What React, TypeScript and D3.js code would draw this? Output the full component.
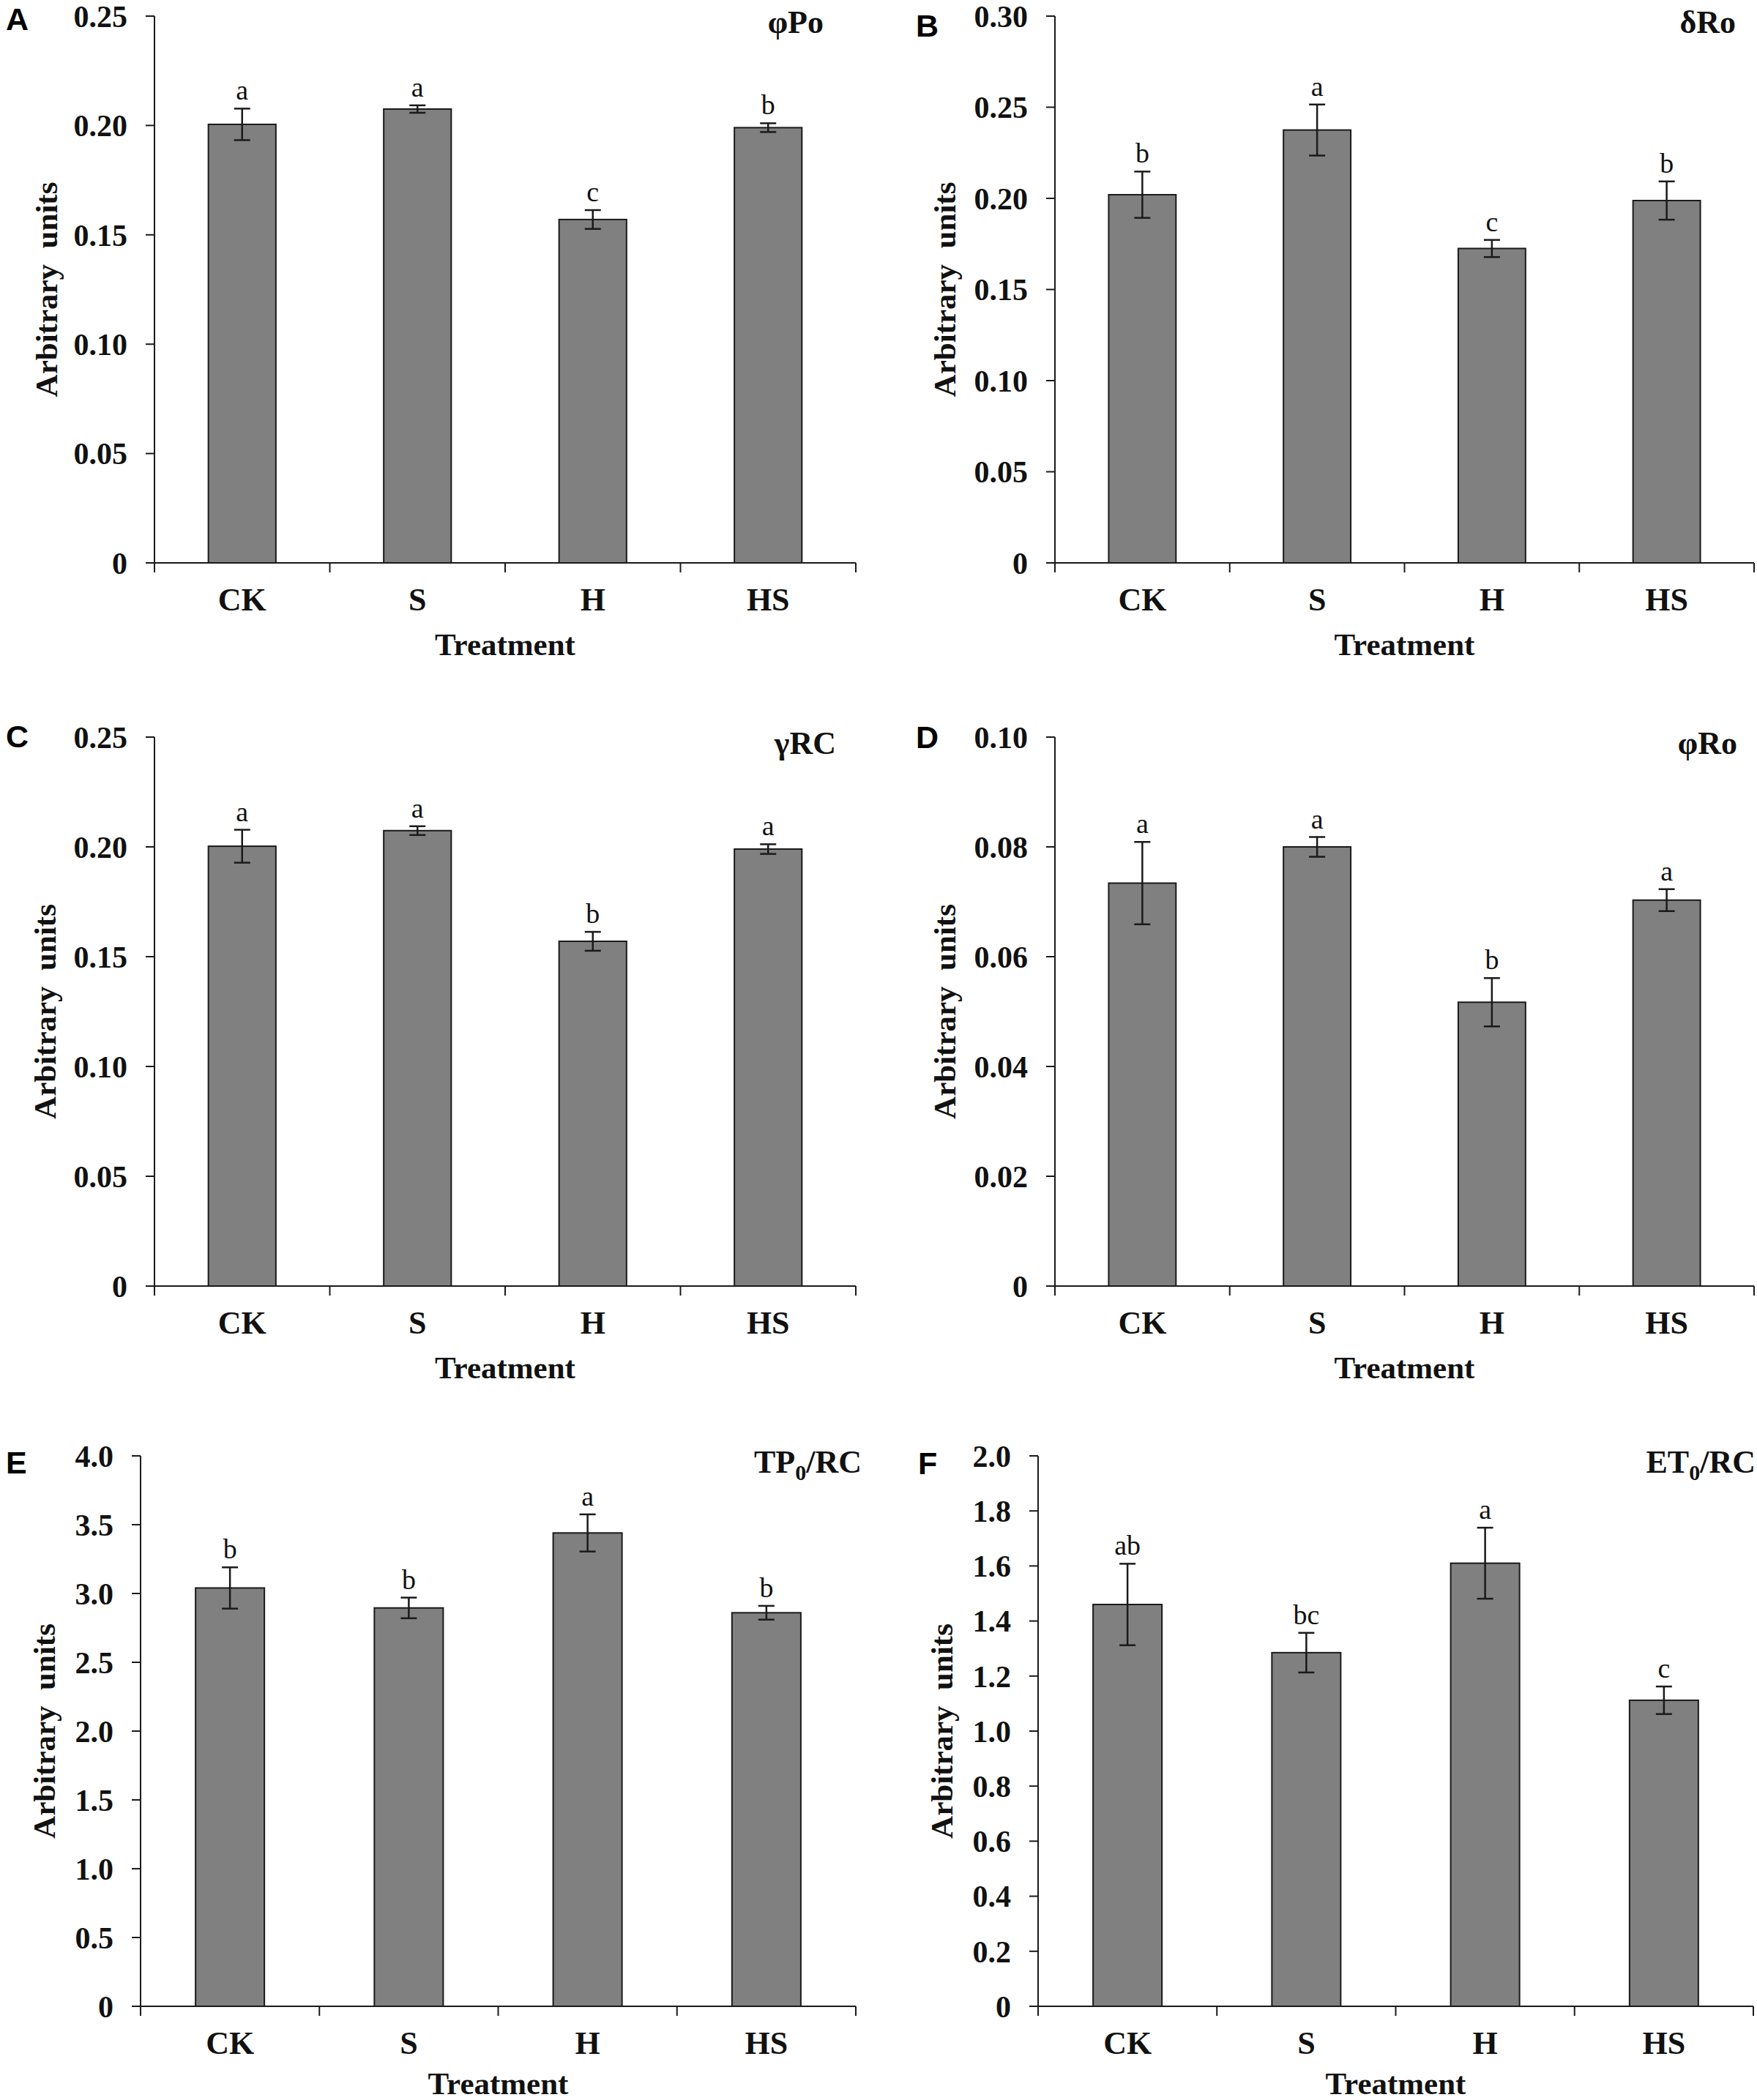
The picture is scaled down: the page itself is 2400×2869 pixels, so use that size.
import * as d3 from "d3";
import React from "react";

const treatments = ["CK", "S", "H", "HS"];

// A: φPo
const phiPoMean = [0.2005, 0.2075, 0.157, 0.199];
const phiPoErr = [0.0072, 0.0017, 0.0043, 0.002];
const phiPoLetters = ["a", "a", "c", "b"];
const phiPoTicks = [0, 0.05, 0.1, 0.15, 0.2, 0.25];

// B: δRo
const deltaRoMean = [0.202, 0.2375, 0.1725, 0.1988];
const deltaRoErr = [0.0127, 0.014, 0.0047, 0.0105];
const deltaRoLetters = ["b", "a", "c", "b"];
const deltaRoTicks = [0, 0.05, 0.1, 0.15, 0.2, 0.25, 0.3];

// C: γRC
const gammaRCMean = [0.2003, 0.2074, 0.157, 0.199];
const gammaRCErr = [0.0075, 0.002, 0.0043, 0.0022];
const gammaRCLetters = ["a", "a", "b", "a"];
const gammaRCTicks = [0, 0.05, 0.1, 0.15, 0.2, 0.25];

// D: φRo
const phiRoMean = [0.0734, 0.08, 0.0517, 0.0703];
const phiRoErr = [0.0075, 0.0018, 0.0044, 0.002];
const phiRoLetters = ["a", "a", "b", "a"];
const phiRoTicks = [0, 0.02, 0.04, 0.06, 0.08, 0.1];

// E: TP0/RC
const tp0Mean = [3.04, 2.895, 3.44, 2.86];
const tp0Err = [0.15, 0.075, 0.135, 0.05];
const tp0Letters = ["b", "b", "a", "b"];
const tp0Ticks = [0, 0.5, 1, 1.5, 2, 2.5, 3, 3.5, 4];

// F: ET0/RC
const et0Mean = [1.46, 1.285, 1.61, 1.112];
const et0Err = [0.148, 0.072, 0.129, 0.05];
const et0Letters = ["ab", "bc", "a", "c"];
const et0Ticks = [0, 0.2, 0.4, 0.6, 0.8, 1, 1.2, 1.4, 1.6, 1.8, 2];

const SERIF = "'Liberation Serif', 'Times New Roman', serif";
const SANS = "'Liberation Sans', Arial, sans-serif";

type TitlePart = { t: string; sub?: boolean };

interface PanelProps {
  letter: string;
  title: TitlePart[];
  mean: number[];
  err: number[];
  letters: string[];
  ticks: number[];
  decimals: number;
  x0: number; // y-axis position
  x1: number; // x-axis right end
  yTop: number;
  yZero: number;
  letterX: number;
  letterY: number;
  titleX: number;
  yLabelX: number;
  xTitleDy?: number;
}

const Panel = (p: PanelProps) => {
  const x = d3.scaleBand<string>().domain(treatments).range([p.x0, p.x1]).padding(0);
  const y = d3
    .scaleLinear()
    .domain([0, p.ticks[p.ticks.length - 1]])
    .range([p.yZero, p.yTop]);
  const bw = x.bandwidth() * 0.385;
  const fmt = (v: number) => (v === 0 ? "0" : v.toFixed(p.decimals));
  const bounds = [...treatments.map((t) => x(t)!), p.x1];
  const stroke = "#1a1a1a";

  let dy = 0;
  return (
    <g>
      {/* bars */}
      {treatments.map((t, i) => (
        <rect
          key={"bar" + t}
          x={x(t)! + (x.bandwidth() - bw) / 2}
          y={y(p.mean[i])}
          width={bw}
          height={y(0) - y(p.mean[i])}
          fill="#808080"
          stroke={stroke}
          strokeWidth={2}
        />
      ))}
      {/* error bars */}
      {treatments.map((t, i) => {
        const cx = x(t)! + x.bandwidth() / 2;
        const hi = y(p.mean[i] + p.err[i]);
        const lo = y(p.mean[i] - p.err[i]);
        return (
          <g key={"err" + t} stroke={stroke} strokeWidth={2.5}>
            <line x1={cx} x2={cx} y1={hi} y2={lo} />
            <line x1={cx - 11} x2={cx + 11} y1={hi} y2={hi} />
            <line x1={cx - 11} x2={cx + 11} y1={lo} y2={lo} />
            <text
              x={cx}
              y={hi - 12}
              textAnchor="middle"
              fontFamily={SERIF}
              fontSize={38}
              fill="#111"
              stroke="none"
            >
              {p.letters[i]}
            </text>
          </g>
        );
      })}
      {/* y axis */}
      <line x1={p.x0} x2={p.x0} y1={p.yTop} y2={p.yZero + 13} stroke={stroke} strokeWidth={2} />
      {p.ticks.map((v) => (
        <g key={"yt" + v}>
          <line x1={p.x0 - 12} x2={p.x0} y1={y(v)} y2={y(v)} stroke={stroke} strokeWidth={2} />
          <text
            x={p.x0 - 37}
            y={y(v)}
            dy="0.35em"
            textAnchor="end"
            fontFamily={SERIF}
            fontWeight="bold"
            fontSize={42}
            fill="#111"
          >
            {fmt(v)}
          </text>
        </g>
      ))}
      {/* x axis */}
      <line x1={p.x0} x2={p.x1} y1={p.yZero} y2={p.yZero} stroke={stroke} strokeWidth={2} />
      {bounds.map((b, i) => (
        <line key={"xt" + i} x1={b} x2={b} y1={p.yZero} y2={p.yZero + 13} stroke={stroke} strokeWidth={2} />
      ))}
      {treatments.map((t) => (
        <text
          key={"xl" + t}
          x={x(t)! + x.bandwidth() / 2}
          y={p.yZero + 65}
          textAnchor="middle"
          fontFamily={SERIF}
          fontWeight="bold"
          fontSize={44}
          fill="#111"
        >
          {t}
        </text>
      ))}
      <text
        x={(p.x0 + p.x1) / 2}
        y={p.yZero + (p.xTitleDy ?? 126)}
        textAnchor="middle"
        fontFamily={SERIF}
        fontWeight="bold"
        fontSize={43}
        fill="#111"
      >
        Treatment
      </text>
      {/* y label */}
      <text
        transform={`translate(${p.yLabelX},${(p.yTop + p.yZero) / 2}) rotate(-90)`}
        textAnchor="middle"
        fontFamily={SERIF}
        fontWeight="bold"
        fontSize={43}
        fill="#111"
        style={{ whiteSpace: "pre" }}
      >
        {"Arbitrary  units"}
      </text>
      {/* panel letter */}
      <text x={p.letterX} y={p.letterY} fontFamily={SANS} fontWeight="bold" fontSize={43} fill="#000">
        {p.letter}
      </text>
      {/* title */}
      <text
        x={p.titleX}
        y={p.yTop + 23}
        textAnchor="end"
        fontFamily={SERIF}
        fontWeight="bold"
        fontSize={44}
        fill="#111"
      >
        {p.title.map((part, i) => {
          const shift = part.sub ? 10 - dy : -dy;
          dy = part.sub ? 10 : 0;
          return (
            <tspan key={i} dy={shift} fontSize={part.sub ? 30 : 44}>
              {part.t}
            </tspan>
          );
        })}
      </text>
    </g>
  );
};

const App = () => {
  return (
    <svg
      width={2400}
      height={2869}
      style={{ position: "absolute", left: 0, top: 0, background: "#fff" }}
    >
      <rect width={2400} height={2869} fill="#fff" />
      <Panel
        letter="A"
        title={[{ t: "φPo" }]}
        mean={phiPoMean}
        err={phiPoErr}
        letters={phiPoLetters}
        ticks={phiPoTicks}
        decimals={2}
        x0={211}
        x1={1169}
        yTop={22}
        yZero={769}
        letterX={8}
        letterY={41}
        titleX={1125}
        yLabelX={78}
      />
      <Panel
        letter="B"
        title={[{ t: "δRo" }]}
        mean={deltaRoMean}
        err={deltaRoErr}
        letters={deltaRoLetters}
        ticks={deltaRoTicks}
        decimals={2}
        x0={1441}
        x1={2396}
        yTop={22}
        yZero={769}
        letterX={1251}
        letterY={50}
        titleX={2371}
        yLabelX={1305}
      />
      <Panel
        letter="C"
        title={[{ t: "γRC" }]}
        mean={gammaRCMean}
        err={gammaRCErr}
        letters={gammaRCLetters}
        ticks={gammaRCTicks}
        decimals={2}
        x0={211}
        x1={1169}
        yTop={1007}
        yZero={1757}
        letterX={8}
        letterY={1021}
        titleX={1142}
        yLabelX={76}
      />
      <Panel
        letter="D"
        title={[{ t: "φRo" }]}
        mean={phiRoMean}
        err={phiRoErr}
        letters={phiRoLetters}
        ticks={phiRoTicks}
        decimals={2}
        x0={1441}
        x1={2396}
        yTop={1007}
        yZero={1757}
        letterX={1251}
        letterY={1022}
        titleX={2373}
        yLabelX={1305}
      />
      <Panel
        letter="E"
        title={[{ t: "TP" }, { t: "0", sub: true }, { t: "/RC" }]}
        mean={tp0Mean}
        err={tp0Err}
        letters={tp0Letters}
        ticks={tp0Ticks}
        decimals={1}
        x0={192}
        x1={1169}
        yTop={1989}
        yZero={2741}
        letterX={8}
        letterY={2013}
        titleX={1177}
        yLabelX={75}
        xTitleDy={120}
      />
      <Panel
        letter="F"
        title={[{ t: "ET" }, { t: "0", sub: true }, { t: "/RC" }]}
        mean={et0Mean}
        err={et0Err}
        letters={et0Letters}
        ticks={et0Ticks}
        decimals={1}
        x0={1418}
        x1={2395}
        yTop={1989}
        yZero={2741}
        letterX={1254}
        letterY={2014}
        titleX={2398}
        yLabelX={1301}
        xTitleDy={120}
      />
    </svg>
  );
};

export default App;
